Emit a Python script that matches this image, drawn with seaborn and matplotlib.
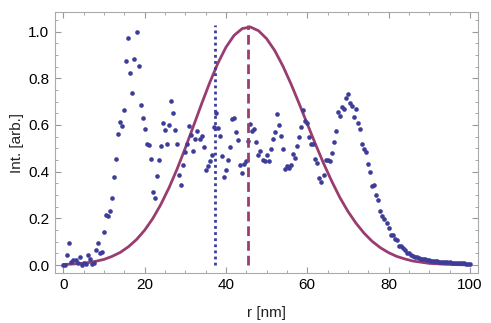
import numpy as np
import pandas as pd
import matplotlib
matplotlib.use("Agg")
import matplotlib.pyplot as plt
from matplotlib.ticker import MultipleLocator
import seaborn as sns

# measured intensity, sampled every 0.5 nm from 0 to 100 nm
r_step = 0.5
int_0_10 = [0.0, 0.002, 0.043, 0.093, 0.013, 0.021, 0.021, 0.007, 0.033, 0.002,
            0.010, 0.005, 0.043, 0.024, 0.004, 0.007, 0.064, 0.093, 0.053, 0.055]
int_10_20 = [0.14, 0.214, 0.21, 0.231, 0.289, 0.379, 0.456, 0.56, 0.614, 0.596,
             0.664, 0.873, 0.974, 0.824, 0.739, 0.884, 1.0, 0.853, 0.686, 0.63]
int_20_30 = [0.584, 0.517, 0.515, 0.456, 0.314, 0.286, 0.381, 0.45, 0.51, 0.61,
             0.58, 0.52, 0.599, 0.704, 0.653, 0.579, 0.517, 0.386, 0.344, 0.43]
int_30_40 = [0.483, 0.517, 0.596, 0.557, 0.49, 0.54, 0.574, 0.54, 0.552, 0.506,
             0.408, 0.424, 0.446, 0.47, 0.593, 0.65, 0.586, 0.554, 0.466, 0.376]
int_40_50 = [0.408, 0.45, 0.506, 0.626, 0.63, 0.571, 0.536, 0.429, 0.393, 0.431,
             0.444, 0.533, 0.606, 0.574, 0.581, 0.529, 0.473, 0.49, 0.449, 0.446]
int_50_60 = [0.473, 0.447, 0.496, 0.541, 0.569, 0.646, 0.599, 0.553, 0.496, 0.41,
             0.423, 0.416, 0.43, 0.477, 0.46, 0.51, 0.55, 0.593, 0.664, 0.619]
int_60_70 = [0.607, 0.55, 0.517, 0.517, 0.454, 0.436, 0.374, 0.356, 0.386, 0.45,
             0.449, 0.446, 0.479, 0.529, 0.574, 0.656, 0.639, 0.676, 0.67, 0.714]
int_70_80 = [0.731, 0.693, 0.681, 0.636, 0.667, 0.61, 0.583, 0.519, 0.497, 0.484,
             0.431, 0.397, 0.338, 0.341, 0.298, 0.277, 0.23, 0.212, 0.198, 0.179]
int_80_90 = [0.157, 0.129, 0.129, 0.111, 0.107, 0.081, 0.081, 0.071, 0.064, 0.053,
             0.05, 0.043, 0.039, 0.036, 0.033, 0.029, 0.027, 0.025, 0.024, 0.022]
int_90_100 = [0.021, 0.019, 0.018, 0.017, 0.016, 0.015, 0.014, 0.013, 0.012, 0.011,
              0.011, 0.010, 0.009, 0.009, 0.008, 0.008, 0.007, 0.007, 0.006, 0.006, 0.006]

# fitted curve, read every 2 nm
fit_step = 2
fit_vals = [0.002, 0.004, 0.006, 0.010, 0.016, 0.024, 0.037, 0.054, 0.078, 0.109,
            0.149, 0.199, 0.260, 0.331, 0.412, 0.501, 0.595, 0.690, 0.781, 0.864,
            0.933, 0.984, 1.013, 1.020, 1.004, 0.970, 0.919, 0.853, 0.776, 0.692,
            0.605, 0.519, 0.436, 0.360, 0.290, 0.230, 0.179, 0.136, 0.101, 0.074,
            0.053, 0.037, 0.026, 0.017, 0.012, 0.007, 0.005, 0.003, 0.002, 0.001, 0.001]

# marker lines: mean radius (dotted) and peak of fit (dashed)
mean_r = 37.3
peak_r = 45.4
line_top = 1.03

intensity = (int_0_10 + int_10_20 + int_20_30 + int_30_40 + int_40_50 +
             int_50_60 + int_60_70 + int_70_80 + int_80_90 + int_90_100)
df = pd.DataFrame({"r": np.arange(len(intensity)) * r_step, "I": intensity})
fit = pd.DataFrame({"r": np.arange(len(fit_vals)) * fit_step, "I": fit_vals})

blue = "#3d3d99"
mag = "#993d71"

sns.set_style("ticks")
plt.rcParams["font.family"] = ["Liberation Sans", "DejaVu Sans"]

fig = plt.figure(figsize=(4.91, 3.23), dpi=100)
ax = fig.add_axes([0.112, 0.155, 0.8615, 0.807])

sns.lineplot(data=fit, x="r", y="I", color=mag, lw=2.0, ax=ax, zorder=2)
sns.scatterplot(data=df, x="r", y="I", color=blue, s=11, linewidth=0, ax=ax, zorder=3)
ax.vlines(mean_r, 0, line_top, colors=blue, linestyles=(0, (1, 1.2)), lw=2.0, zorder=4)
ax.vlines(peak_r, 0, line_top, colors=mag, linestyles=(0, (3.5, 1.8)), lw=2.0, zorder=4)

ax.set_xlim(-2.05, 102.0)
ax.set_ylim(-0.034, 1.083)
ax.xaxis.set_major_locator(MultipleLocator(20))
ax.xaxis.set_minor_locator(MultipleLocator(5))
ax.yaxis.set_major_locator(MultipleLocator(0.2))
ax.yaxis.set_minor_locator(MultipleLocator(0.05))
ax.yaxis.set_major_formatter(plt.FormatStrFormatter("%.1f"))

ax.tick_params(which="both", direction="in", top=True, right=True,
               color="#999999", labelsize=11, labelcolor="black", pad=4)
ax.tick_params(which="major", length=4, width=0.8)
ax.tick_params(which="minor", length=2, width=0.6)
for s in ax.spines.values():
    s.set_color("#aaaaaa")
    s.set_linewidth(0.8)

ax.set_xlabel("r [nm]", fontsize=11, color="#222222", labelpad=10)
ax.set_ylabel("Int. [arb.]", fontsize=11, color="#222222", labelpad=3)

fig.savefig("out.png", dpi=100)
